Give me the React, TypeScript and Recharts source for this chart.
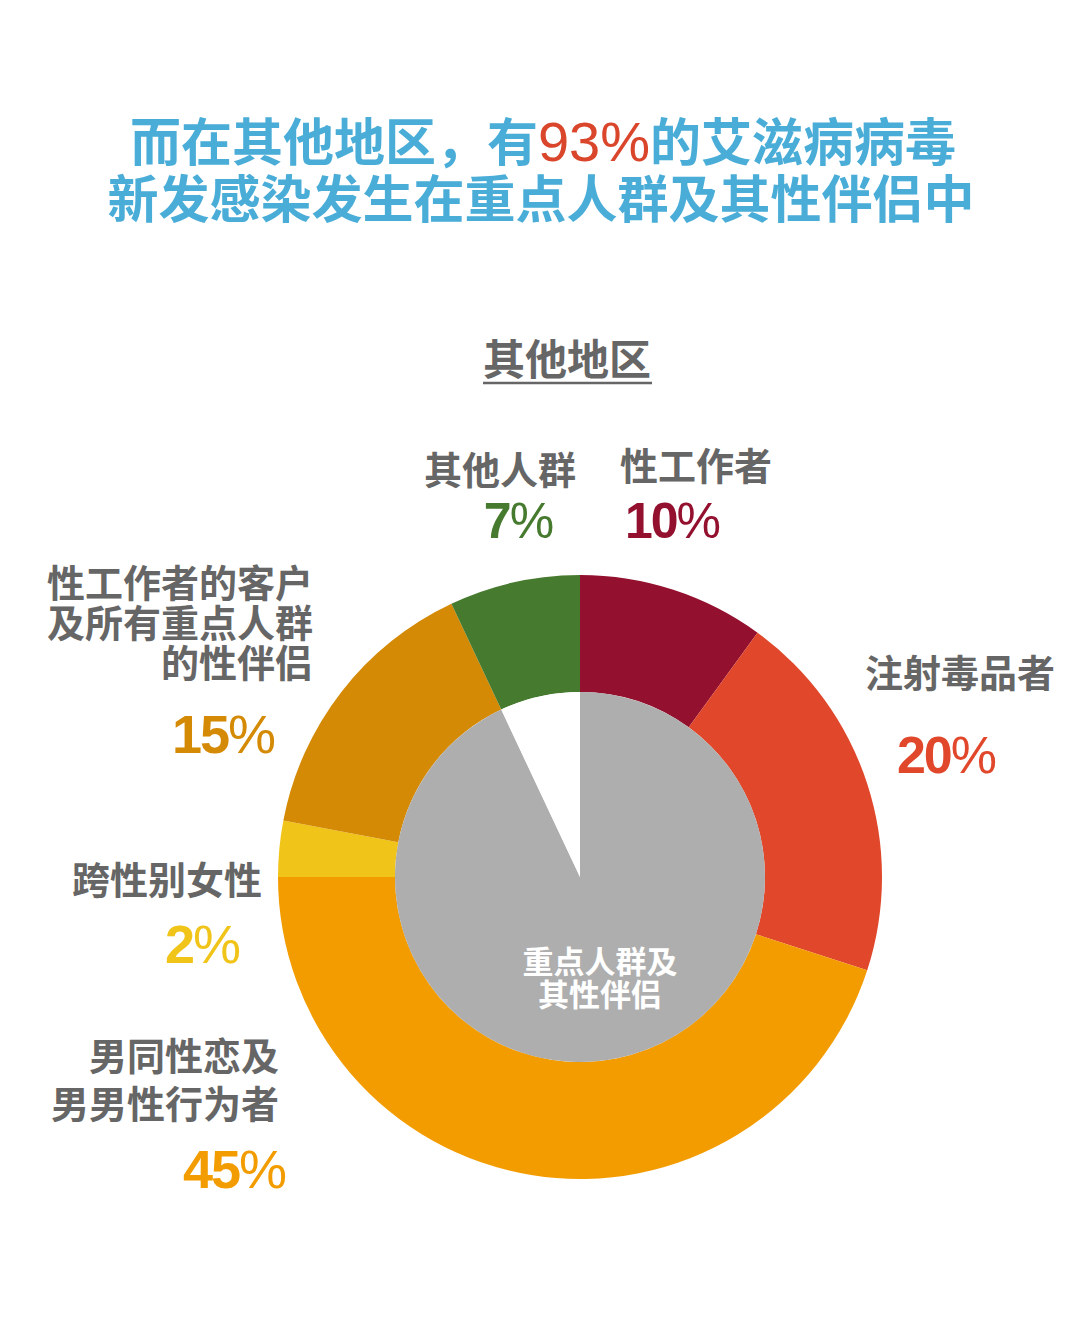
import { Cell, Pie, PieChart } from 'recharts'

const groups = ['性工作者', '注射毒品者', '男同性恋及男男性行为者', '跨性别女性', '性工作者的客户及所有重点人群的性伴侣', '其他人群']
const shares = [10, 20, 45, 3, 15, 7]
const shareLabels = ['10%', '20%', '45%', '2%', '15%', '7%']
const groupColors = ['#93102F', '#E0472B', '#F39C00', '#F0C419', '#D48A04', '#467A2E']

const coreNames = ['重点人群及其性伴侣', '其他']
const coreShares = [93, 7]
const coreColors = ['#AEAEAE', '#FFFFFF']

const ringData = groups.map((name, i) => ({ name, value: shares[i] }))
const coreData = coreNames.map((name, i) => ({ name, value: coreShares[i] }))

const GRAY = '#666666'
const BLUE = '#4AADD8'
const CJK = '"Noto Sans CJK SC", "Noto Sans", sans-serif'
const LATIN = '"Liberation Sans", Arial, sans-serif'

function Pct({ x, y, text, color, size = 50 }: { x: number; y: number; text: string; color: string; size?: number }) {
	const digits = text.replace('%', '')
	return (
		<text x={x} y={y} textAnchor='middle' fontFamily={LATIN} fontSize={size} fontWeight={700} fill={color} letterSpacing={-2}>
			{digits}
			<tspan fontWeight={400}>%</tspan>
		</text>
	)
}

function Label({
	x,
	y,
	lines,
	anchor = 'middle',
	gap = 40,
}: {
	x: number
	y: number
	lines: string[]
	anchor?: 'start' | 'middle' | 'end'
	gap?: number
}) {
	return (
		<g>
			{lines.map((l, i) => (
				<text key={l} x={x} y={y + i * gap} textAnchor={anchor} fontFamily={CJK} fontSize={38} fontWeight={700} fill={GRAY}>
					{l}
				</text>
			))}
		</g>
	)
}

export default function App() {
	return (
		<div style={{ position: 'absolute', left: 0, top: 0, width: 1080, height: 1337, background: '#fff' }}>
			<PieChart width={1080} height={1337} margin={{ top: 0, right: 0, bottom: 0, left: 0 }}>
				<Pie
					data={ringData}
					dataKey='value'
					cx={580}
					cy={877}
					innerRadius={185}
					outerRadius={302}
					startAngle={90}
					endAngle={-270}
					stroke='none'
					isAnimationActive={false}
				>
					{ringData.map((d, i) => (
						<Cell key={d.name} fill={groupColors[i]} />
					))}
				</Pie>
				<Pie
					data={coreData}
					dataKey='value'
					cx={580}
					cy={877}
					innerRadius={0}
					outerRadius={185}
					startAngle={90}
					endAngle={-270}
					stroke='none'
					isAnimationActive={false}
				>
					{coreData.map((d, i) => (
						<Cell key={d.name} fill={coreColors[i]} />
					))}
				</Pie>
			</PieChart>
			<svg width={1080} height={1337} style={{ position: 'absolute', left: 0, top: 0, pointerEvents: 'none' }}>
				<text x={543} y={161} textAnchor='middle' fontFamily={CJK} fontSize={51} fontWeight={700} fill={BLUE}>
					而在其他地区，有
					<tspan fill='#D9462B' fontFamily={LATIN} fontWeight={400} fontSize={56}>
						93%
					</tspan>
					的艾滋病病毒
				</text>
				<text x={541} y={218} textAnchor='middle' fontFamily={CJK} fontSize={51} fontWeight={700} fill={BLUE}>
					新发感染发生在重点人群及其性伴侣中
				</text>

				<text x={567} y={375} textAnchor='middle' fontFamily={CJK} fontSize={42} fontWeight={700} fill={GRAY}>
					其他地区
				</text>
				<line x1={483} x2={652} y1={383} y2={383} stroke={GRAY} strokeWidth={2.5} />

				<Label x={500} y={484} lines={['其他人群']} />
				<Label x={696} y={480} lines={['性工作者']} />
				<Label x={960} y={687} lines={['注射毒品者']} />
				<Label x={313} y={597} lines={['性工作者的客户', '及所有重点人群', '的性伴侣']} anchor='end' />
				<Label x={262} y={894} lines={['跨性别女性']} anchor='end' />
				<Label x={279} y={1070} lines={['男同性恋及', '男男性行为者']} anchor='end' gap={48} />

				<Pct x={518} y={538} text={shareLabels[5]} color={groupColors[5]} />
				<Pct x={672} y={538} text={shareLabels[0]} color={groupColors[0]} />
				<Pct x={946} y={773} text={shareLabels[1]} color={groupColors[1]} size={52} />
				<Pct x={223} y={753} text={shareLabels[4]} color={groupColors[4]} size={54} />
				<Pct x={202} y={963} text={shareLabels[3]} color={groupColors[3]} size={54} />
				<Pct x={234} y={1188} text={shareLabels[2]} color={groupColors[2]} size={54} />

				<text x={600} y={973} textAnchor='middle' fontFamily={CJK} fontSize={31} fontWeight={700} fill='#fff'>
					重点人群及
				</text>
				<text x={600} y={1006} textAnchor='middle' fontFamily={CJK} fontSize={31} fontWeight={700} fill='#fff'>
					其性伴侣
				</text>
			</svg>
		</div>
	)
}
